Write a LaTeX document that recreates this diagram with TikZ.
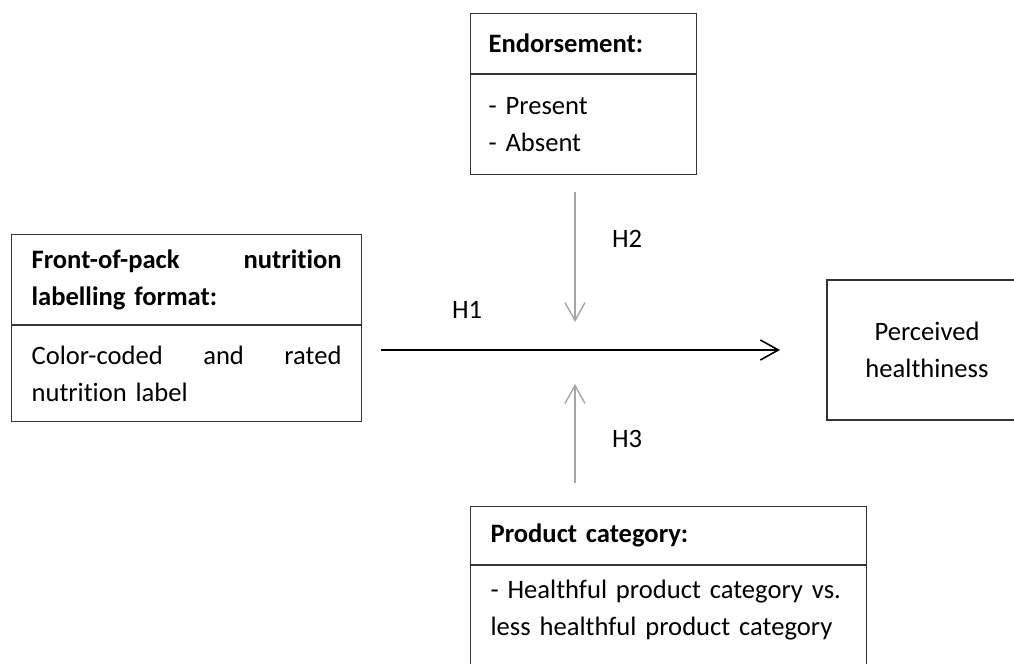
\documentclass[tikz,border=0pt]{standalone}
\usepackage{fontspec}
\setmainfont[Ligatures=NoCommon]{Carlito}
\usetikzlibrary{arrows.meta,positioning}
\tikzset{
  every node/.style={font=\fontsize{13.3}{18.5}\selectfont},
  partbox/.style={draw=black!80, line width=0.6pt, inner ysep=0pt, align=left},
  headbox/.style={partbox, anchor=north west, font=\fontsize{13.3}{18.5}\selectfont\bfseries},
  hypline/.style={draw=black!35, line width=0.7pt, -{Straight Barb[length=9pt,width=10pt]}},
  hyplabel/.style={anchor=base west}
}
\begin{document}
\begin{tikzpicture}[x=0.5pt,y=-0.5pt]
\useasboundingbox (0,0) rectangle (1014,664);
% independent variable
\node[headbox, text width=155pt, inner xsep=10pt, minimum height=45pt] (fophead) at (11,234)
  {Front-of-pack\hfill nutrition\\ labelling format:};
\node[partbox, text width=155pt, inner xsep=10pt, minimum height=48pt, below=0pt of fophead] (fopbody)
  {Color-coded\hfill and\hfill rated\\ nutrition label};
% moderator 1
\node[headbox, text width=95pt, inner xsep=9pt, minimum height=30pt] (endhead) at (470,13)
  {Endorsement:};
\node[partbox, text width=95pt, inner xsep=9pt, minimum height=50pt, below=0pt of endhead] (endbody)
  {- Present\\ - Absent};
% moderator 2
\node[headbox, text width=178pt, inner xsep=10pt, minimum height=29pt] (cathead) at (470,506)
  {Product category:};
\node[partbox, text width=178pt, inner xsep=10pt, minimum height=66pt, below=0pt of cathead] (catbody)
  {- Healthful product category vs.\\ less healthful product category\\ \strut};
% dependent variable
\node[partbox, align=center, minimum width=100pt, minimum height=70pt] (health) at (927,350)
  {Perceived\\ healthiness};

\coordinate (h1s) at (381,350);
\coordinate (h1e) at (780,350);
\coordinate (h2s) at (575,192);
\coordinate (h2e) at (575,322);
\coordinate (h3s) at (575,483);
\coordinate (h3e) at (575,384);
\draw[line width=0.8pt, -{Straight Barb[length=9pt,width=10pt]}] (h1s) -- (h1e);
\draw[hypline] (h2s) -- (h2e);
\draw[hypline] (h3s) -- (h3e);
\node[hyplabel] (h1) at (445,318) {H1};
\node[hyplabel] (h2) at (605,247) {H2};
\node[hyplabel] (h3) at (605,447) {H3};
\end{tikzpicture}
\end{document}
